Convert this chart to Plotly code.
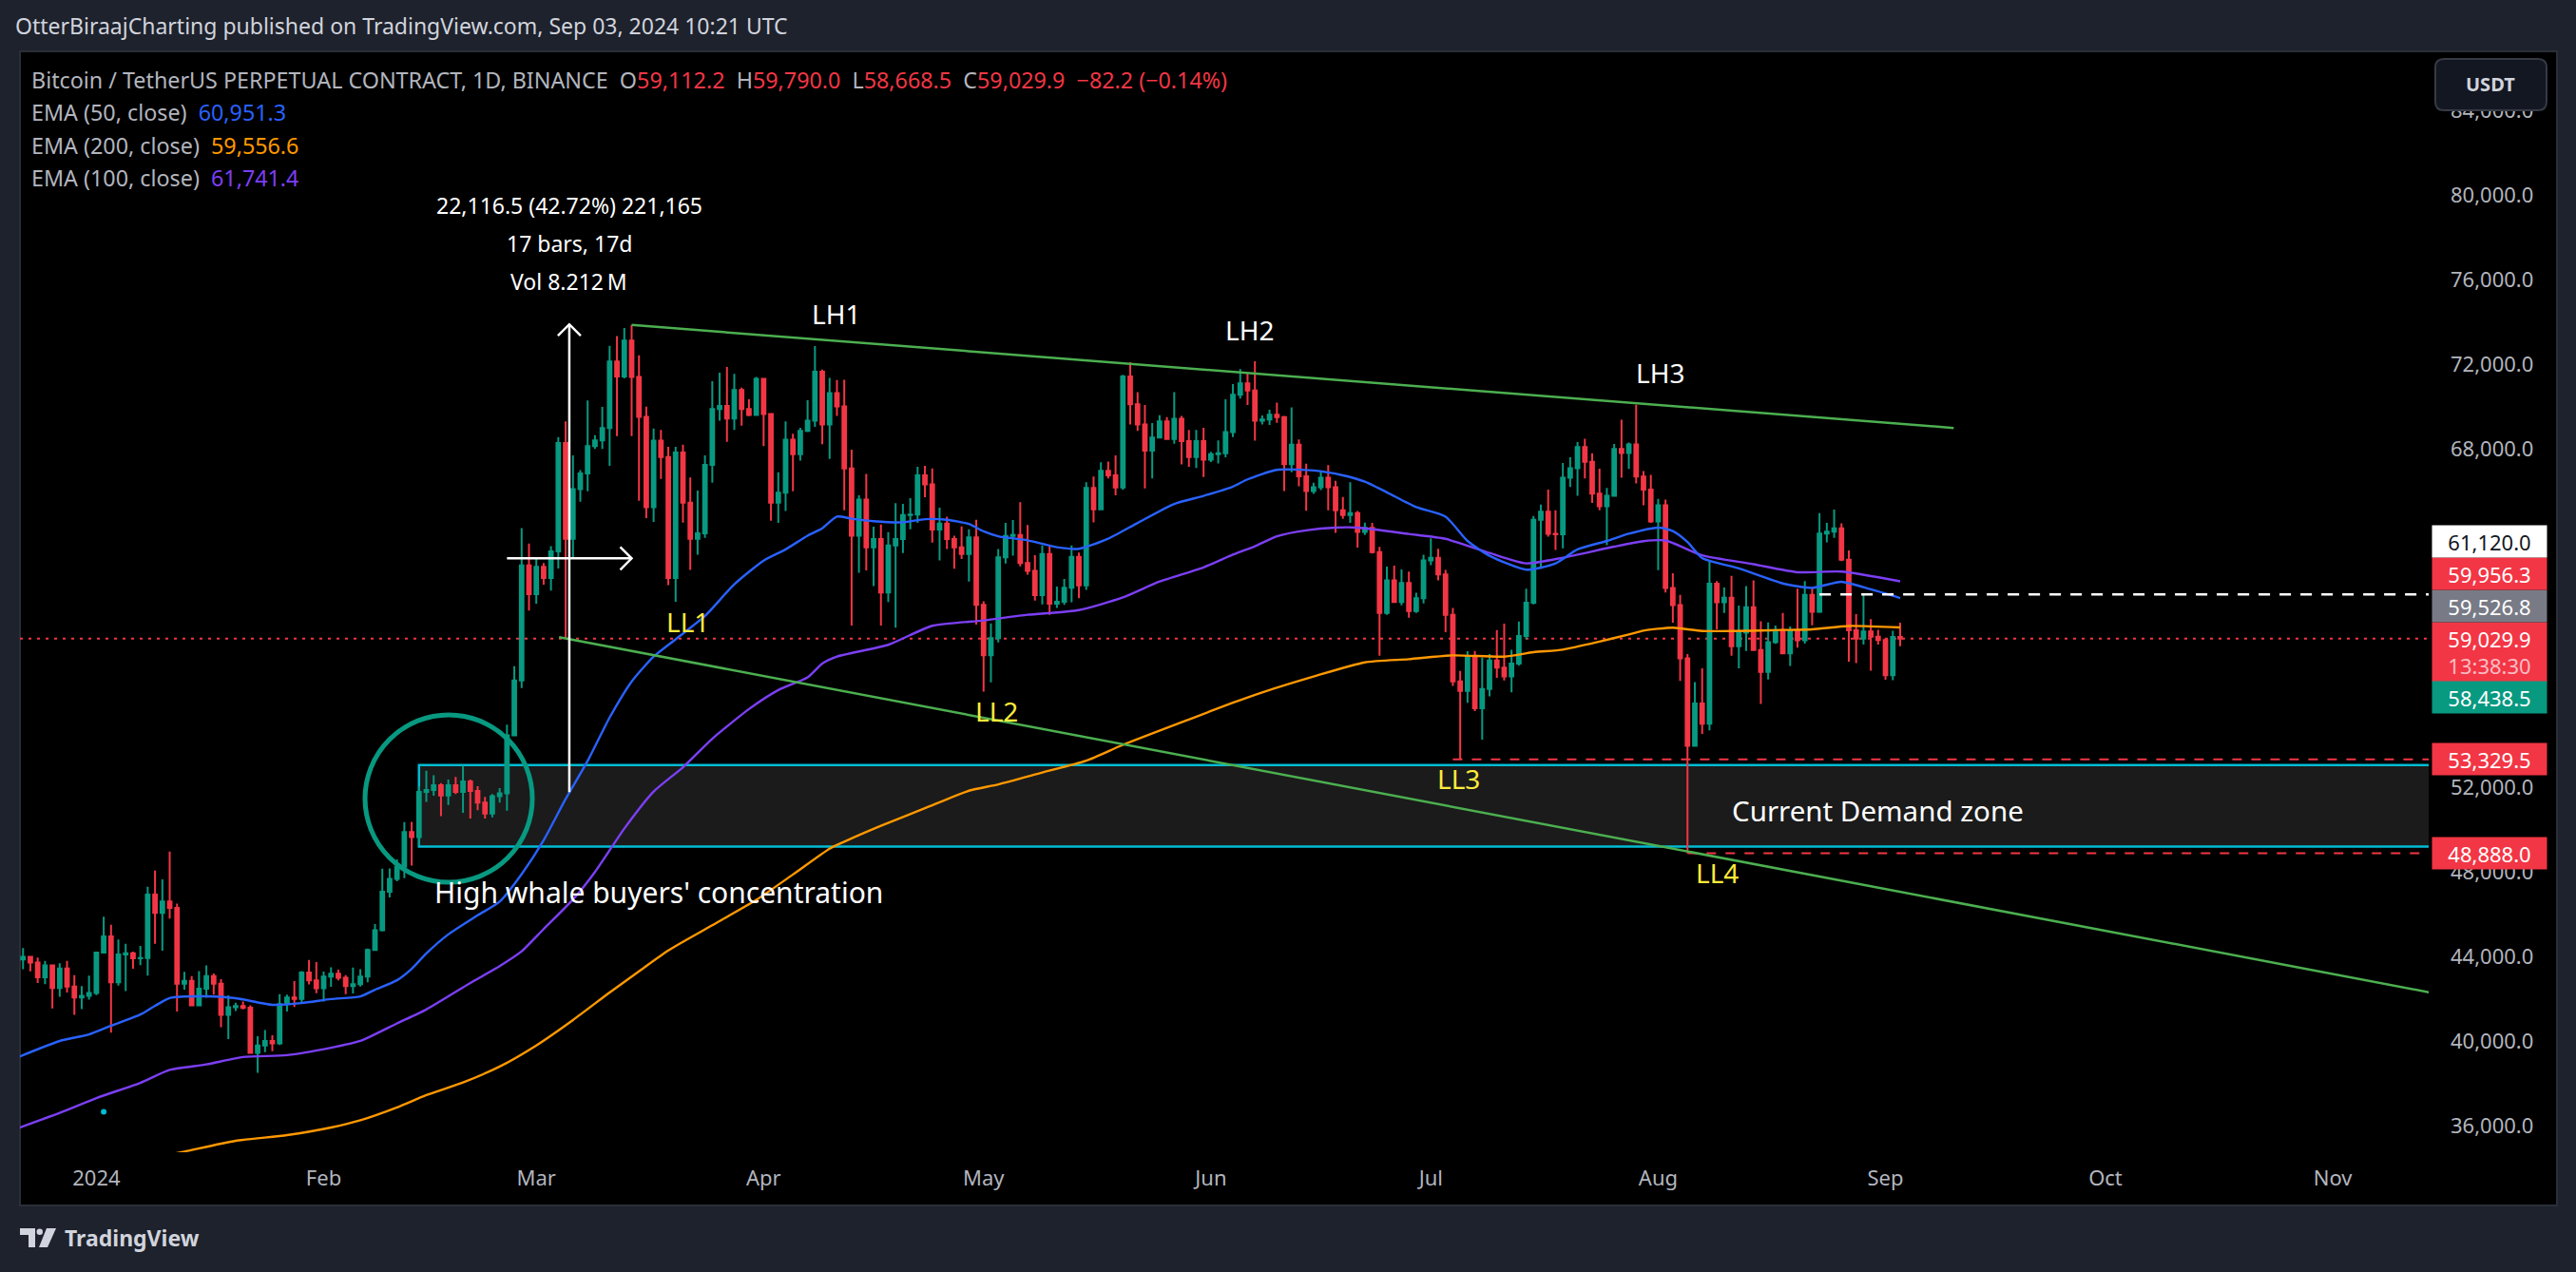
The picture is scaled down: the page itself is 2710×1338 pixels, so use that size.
import plotly.graph_objects as go
import pandas as pd

# ---------------- DATA ----------------
start_date = "2023-12-22"

dec_o = [43860, 43990, 43720, 43020, 43580, 42520, 43440, 42580, 42070, 42140]
dec_h = [44400, 44020, 43950, 43800, 43600, 43680, 43800, 43120, 42600, 43100]
dec_l = [43400, 43300, 42750, 42700, 41550, 42100, 42300, 41240, 41520, 41960]
dec_c = [43990, 43720, 43020, 43580, 42520, 43440, 42580, 42070, 42140, 42280]

jan_o = [42280, 44190, 44950, 42780, 44100, 44150, 43920, 43930, 46930, 46070, 46610, 46300, 42720, 42850, 41700, 42480, 43080, 42720, 41250, 41600, 41660, 41580, 39450, 39800, 40010, 39900, 41750, 42070, 42000, 43250, 42880]
jan_h = [44200, 45890, 45500, 44810, 44600, 44230, 44500, 47300, 48070, 47650, 48970, 46500, 43280, 43080, 43310, 43580, 43200, 42930, 42170, 41820, 41880, 41690, 40230, 40530, 40280, 42220, 42200, 42840, 43310, 43840, 43740]
jan_l = [42180, 44150, 40400, 42630, 42370, 43430, 43590, 43100, 44600, 44280, 45800, 41400, 42440, 41660, 41660, 42050, 42200, 40660, 40100, 41430, 41500, 39400, 38500, 39480, 39530, 39820, 41400, 41620, 41800, 42680, 42270]
jan_c = [44190, 44950, 42780, 44100, 44150, 43920, 43930, 46930, 46070, 46610, 46300, 42720, 42850, 41700, 42480, 43080, 42720, 41250, 41600, 41660, 41580, 39450, 39800, 40010, 39900, 41750, 42070, 42000, 43250, 42880, 42500]

feb_o = [42500, 43050, 43190, 43000, 42600, 42700, 43050, 44310, 45240, 47070, 47670, 48240, 49890, 49650, 51790, 51870, 52100, 51620, 52100, 51790, 52280, 51830, 51280, 50760, 51580, 51720, 54460, 57050, 62490]
feb_h = [43290, 43490, 43380, 43120, 43480, 43400, 44380, 45540, 48150, 48170, 48590, 50360, 50370, 52040, 52780, 52570, 52200, 52370, 52490, 53030, 52370, 52050, 51550, 51680, 51960, 54970, 57730, 64260, 63530]
feb_l = [41880, 42570, 42880, 42220, 42260, 42580, 42790, 44270, 45190, 46800, 47560, 47710, 48300, 49250, 51310, 51600, 50640, 51170, 51680, 50800, 50530, 50920, 50530, 50580, 51280, 50900, 54450, 56700, 60360]
feb_c = [43050, 43190, 43000, 42600, 42700, 43050, 44310, 45240, 47070, 47670, 48240, 49890, 49650, 51790, 51870, 52100, 51620, 52100, 51790, 52280, 51830, 51280, 50760, 51580, 51720, 54460, 57050, 62490, 61130]

mar_o = [61130, 62420, 61900, 63160, 68280, 63750, 66100, 66840, 68130, 68400, 68990, 72130, 71430, 73120, 71400, 69510, 65240, 68390, 67620, 61900, 67830, 65460, 63750, 64010, 67240, 69890, 70030, 69440, 70790, 69890, 69600]
mar_h = [62880, 62600, 63400, 68560, 69300, 67700, 67000, 70290, 68650, 69990, 72870, 73330, 73720, 73860, 72430, 70000, 68960, 68900, 68100, 68100, 68200, 66650, 66030, 67700, 71200, 71600, 71880, 71550, 70900, 70350, 71400]
mar_l = [60680, 61580, 61300, 62350, 59060, 62840, 65500, 66000, 68000, 68000, 67200, 68610, 71340, 68610, 65550, 64730, 64550, 66580, 61560, 60770, 64520, 62280, 63000, 63800, 66400, 69330, 68340, 68900, 69100, 69550, 69570]
mar_c = [62420, 61900, 63160, 68280, 63750, 66100, 66840, 68130, 68400, 68990, 72130, 71430, 73120, 71400, 69510, 65240, 68390, 67620, 61900, 67830, 65460, 63750, 64010, 67240, 69890, 70030, 69440, 70790, 69890, 69600, 71310]

apr_o = [71310, 69650, 65460, 65930, 68440, 67750, 68850, 69330, 71650, 69150, 70640, 70010, 67080, 63900, 65600, 63350, 63740, 61210, 63440, 63740, 64870, 64900, 66750, 66320, 64190, 64470, 63740, 63350, 63030, 63820]
apr_h = [71360, 69700, 66900, 69300, 68720, 69000, 70300, 72860, 71750, 71360, 71260, 71270, 67960, 65810, 66820, 64320, 64420, 64060, 65440, 65400, 65670, 67160, 67200, 67080, 65220, 64800, 63900, 64330, 64200, 64650]
apr_l = [68130, 64600, 64500, 65060, 66000, 67450, 68800, 69040, 68220, 67530, 69560, 65100, 59650, 62140, 62260, 61510, 59650, 60760, 59550, 63080, 64200, 64500, 65720, 63570, 62730, 63270, 62330, 62800, 61730, 59700]
apr_c = [69650, 65460, 65930, 68440, 67750, 68850, 69330, 71650, 69150, 70640, 70010, 67080, 63900, 65600, 63350, 63740, 61210, 63440, 63740, 64870, 64900, 66750, 66320, 64190, 64470, 63740, 63350, 63030, 63820, 60630]

may_o = [60630, 58240, 59050, 62870, 63890, 63930, 62600, 62230, 61090, 63030, 60680, 60770, 61440, 62900, 61550, 66160, 65140, 66970, 66750, 66180, 71420, 70110, 69150, 67920, 68540, 69300, 68470, 69420, 68370, 67620, 68370]
may_h = [60800, 59750, 63270, 64500, 64640, 65480, 64400, 62980, 63440, 63450, 61490, 61850, 63440, 63100, 66430, 66700, 67370, 67400, 67700, 71500, 72100, 70680, 70080, 69220, 69590, 69500, 70680, 69560, 68900, 68900, 69000]
may_l = [56530, 56960, 58850, 62580, 62950, 62450, 62050, 60830, 60650, 60150, 60480, 60630, 60750, 60940, 61330, 64530, 65110, 66600, 65810, 66060, 69150, 68850, 66130, 66600, 68500, 68450, 68250, 67270, 67160, 67100, 66670]
may_c = [58240, 59050, 62870, 63890, 63930, 62600, 62230, 61090, 63030, 60680, 60770, 61440, 62900, 61550, 66160, 65140, 66970, 66750, 66180, 71420, 70110, 69150, 67920, 68540, 69300, 68470, 69420, 68370, 67620, 68370, 67490]

jun_o = [67490, 67750, 67800, 68800, 70560, 71100, 70760, 69330, 69390, 69620, 69500, 67280, 68200, 66710, 66010, 66190, 66640, 66190, 65100, 64870, 64960, 64080, 64270, 63120, 60240, 61780, 60760, 61660, 60330, 60940]
jun_h = [67860, 68400, 70350, 71060, 71770, 71620, 72140, 69580, 69850, 70190, 69560, 69970, 68450, 67300, 66400, 66960, 67230, 66490, 65730, 66430, 65070, 64520, 64500, 63370, 62440, 62480, 62300, 62200, 61200, 63000]
jun_l = [67380, 67310, 67610, 68560, 70380, 70080, 68390, 69160, 69130, 69230, 66010, 66900, 66230, 65080, 65880, 66050, 65100, 64030, 64700, 64500, 63340, 63930, 63050, 58220, 60150, 60750, 60600, 60020, 60250, 60700]
jun_c = [67750, 67800, 68800, 70560, 71100, 70760, 69330, 69390, 69620, 69500, 67280, 68200, 66710, 66010, 66190, 66640, 66190, 65100, 64870, 64960, 64080, 64270, 63120, 60240, 61780, 60760, 61660, 60330, 60940, 62730]

jul_o = [62730, 62850, 62070, 60150, 57010, 56560, 58200, 55740, 56650, 58000, 57660, 57250, 57850, 59150, 60730, 64650, 65030, 63990, 63970, 66640, 67090, 68090, 67390, 65890, 65290, 65780, 68000, 67810, 68210, 66690, 66080]
jul_h = [63770, 63280, 62280, 60480, 57500, 58440, 58450, 58130, 58300, 59440, 59740, 58500, 59840, 61390, 64830, 65370, 66080, 65100, 67340, 67600, 68320, 68480, 67800, 67060, 66150, 68230, 69380, 68300, 70090, 66950, 66770]
jul_l = [62500, 61780, 59330, 56800, 53330, 56000, 55600, 54260, 56300, 57180, 57050, 56490, 57750, 59000, 60650, 62330, 63850, 63220, 63300, 66200, 65780, 66600, 65450, 65100, 63450, 65740, 66640, 67050, 66370, 65330, 64500]
jul_c = [62850, 62070, 60150, 57010, 56560, 58200, 55740, 56650, 58000, 57660, 57250, 57850, 59150, 60730, 64650, 65030, 63990, 63970, 66640, 67090, 68090, 67390, 65890, 65290, 65780, 68000, 67810, 68210, 66690, 66080, 64570]

aug_o = [64570, 65330, 61430, 60620, 58100, 53970, 55970, 55010, 61630, 60750, 60970, 58670, 59310, 60510, 58490, 57460, 58860, 59440, 58340, 59390, 58950, 61100, 60300, 64000, 64090, 64250, 62760, 59420, 59030, 59370, 59120]
aug_h = [65640, 65600, 62120, 61100, 58300, 56980, 57630, 62710, 61750, 61450, 62000, 60590, 61520, 61790, 59850, 59800, 59650, 60250, 59600, 61390, 61750, 61400, 64960, 64500, 65130, 64480, 63200, 60190, 61100, 59950, 59450]
aug_l = [62270, 61210, 59790, 57030, 48888, 53950, 54530, 54700, 59470, 60250, 58220, 57630, 58450, 58450, 55940, 57100, 58780, 58330, 57740, 58600, 58800, 59660, 60250, 63580, 63800, 62700, 57940, 57870, 58750, 57510, 58750]
aug_c = [65330, 61430, 60620, 58100, 53970, 55970, 55010, 61630, 60750, 60970, 58670, 59310, 60510, 58490, 57460, 58860, 59440, 58340, 59390, 58950, 61100, 60300, 64000, 64090, 64250, 62760, 59420, 59030, 59370, 59120, 58970]

sep_o = [58970, 57300, 59112.2]
sep_h = [59050, 59400, 59790.0]
sep_l = [57090, 57060, 58668.5]
sep_c = [57300, 59112.2, 59029.9]

# EMA values (day offset from 2024-01-01, value)
ema50_day = [-11, -5, -1, 2, 6, 8, 10, 15, 19, 24, 28, 32, 36, 38, 41, 43, 45, 48, 52, 55, 58, 61, 64, 67, 70, 73, 76, 79, 83, 87, 91, 94, 97, 99, 101, 103, 106, 110, 113, 116, 119, 121, 123, 127, 131, 134, 138, 142, 147, 151, 155, 157, 161, 166, 170, 173, 176, 180, 184, 187, 190, 195, 199, 202, 206, 209, 213, 215, 217, 219, 224, 230, 234, 238, 242, 246]
ema50_val = [39200, 40010, 40320, 40730, 41260, 41670, 42040, 42120, 42030, 41720, 41800, 41990, 42120, 42430, 42880, 43420, 44150, 45050, 45950, 46600, 47900, 49500, 51450, 53250, 55300, 57000, 58180, 59000, 60100, 61600, 62720, 63250, 63900, 64250, 64800, 64700, 64580, 64530, 64680, 64650, 64450, 64100, 63870, 63680, 63350, 63280, 63760, 64500, 65400, 65780, 66220, 66560, 67010, 66980, 66750, 66450, 65950, 65250, 64800, 63650, 62950, 62290, 62590, 63250, 63650, 63990, 64280, 64120, 63600, 62840, 62350, 61640, 61430, 61720, 61360, 60951.3]
ema100_day = [-11, -5, 0, 6, 10, 15, 20, 26, 32, 36, 41, 45, 51, 55, 58, 61, 65, 68, 72, 76, 80, 84, 89, 93, 97, 99, 101, 108, 114, 121, 127, 134, 140, 145, 151, 155, 158, 161, 165, 169, 172, 179, 184, 190, 195, 200, 207, 211, 214, 219, 226, 232, 238, 246]
ema100_val = [35850, 36610, 37310, 38030, 38640, 38900, 39250, 39340, 39690, 40010, 40840, 41500, 42750, 43550, 44250, 45300, 46700, 48000, 50050, 51800, 52950, 54300, 55700, 56600, 57200, 57850, 58180, 58740, 59640, 59890, 60160, 60380, 60980, 61730, 62400, 63000, 63400, 63870, 64150, 64280, 64280, 63980, 63750, 63080, 62590, 62860, 63380, 63640, 63670, 62970, 62550, 62170, 62200, 61741.4]
ema200_day = [8, 12, 19, 26, 32, 36, 41, 45, 50, 55, 60, 65, 70, 74, 78, 84, 90, 95, 100, 102, 107, 113, 119, 123, 129, 135, 140, 149, 155, 159, 166, 173, 179, 185, 192, 196, 200, 205, 209, 211, 215, 219, 230, 234, 239, 246]
ema200_val = [34500, 34780, 35290, 35560, 35920, 36260, 36870, 37450, 38050, 38800, 39800, 41000, 42300, 43300, 44290, 45480, 46680, 47880, 49100, 49430, 50180, 51010, 51840, 52140, 52700, 53260, 54010, 55210, 56000, 56490, 57240, 57910, 58060, 58240, 58180, 58390, 58510, 58890, 59230, 59410, 59550, 59390, 59440, 59470, 59630, 59556.6]

month_days = [0, 31, 60, 91, 121, 152, 182, 213, 244, 274, 305]
month_labels = ["2024", "Feb", "Mar", "Apr", "May", "Jun", "Jul", "Aug", "Sep", "Oct", "Nov"]
price_ticks = [36000, 40000, 44000, 48000, 52000, 64000, 68000, 72000, 76000, 80000, 84000]

# drawings (day offset, price)
upper_trend = [(73, 73860), (253.3, 68990)]
lower_trend = [(63.1, 59100), (318.1, 42315)]
demand_zone = dict(day0=44, day1=340, low=49200, high=53050)
whale_circle = dict(day=48.05, price=51470, radius_px=88)
measure = dict(day0=56, day1=73, low=51770.5, high=73887.0)
current_price = 59029.9
white_line = dict(day0=235, price=61120.0)
red_dashed = [(185, 53329.5), (217, 48888.0)]
swing_labels = [("LH1", 100.9, 74390, "#ffffff"), ("LH2", 157.3, 73627, "#ffffff"), ("LH3", 213.3, 71605, "#ffffff"),
                ("LL1", 80.7, 59830, "#ffeb3b"), ("LL2", 122.8, 55600, "#ffeb3b"), ("LL3", 185.8, 52410, "#ffeb3b"),
                ("LL4", 221.1, 47960, "#ffeb3b")]
axis_above = [(61120.0, "#ffffff", "#131722"), (59956.3, "#f23645", "#ffffff"), (59526.8, "#787b86", "#ffffff")]
axis_below = [(58438.5, "#089981", "#ffffff"), (53329.5, "#f23645", "#ffffff"), (48888.0, "#f23645", "#ffffff")]

opens = dec_o + jan_o + feb_o + mar_o + apr_o + may_o + jun_o + jul_o + aug_o + sep_o
highs = dec_h + jan_h + feb_h + mar_h + apr_h + may_h + jun_h + jul_h + aug_h + sep_h
lows = dec_l + jan_l + feb_l + mar_l + apr_l + may_l + jun_l + jul_l + aug_l + sep_l
closes = dec_c + jan_c + feb_c + mar_c + apr_c + may_c + jun_c + jul_c + aug_c + sep_c
assert len(opens) == len(highs) == len(lows) == len(closes), (len(opens), len(highs), len(lows), len(closes))
dates = pd.date_range(start_date, periods=len(closes), freq="D")
days = [(d - pd.Timestamp("2024-01-01")).days for d in dates]

# ---------------- LAYOUT ----------------
W, H = 2710, 1338
M_L, M_R, M_T, M_B = 21, 155, 57, 126
PW, PH = W - M_L - M_R, H - M_T - M_B
X_RANGE = [-10.42, 318.08]
Y_RANGE = [34751.0, 86661.0]
DAY_PX = PW / (X_RANGE[1] - X_RANGE[0])
USD_PX = PH / (Y_RANGE[1] - Y_RANGE[0])


def px_y(p):
    return M_T + (Y_RANGE[1] - p) * USD_PX


def paper_x(px):
    return (px - M_L) / PW


def paper_y(py):
    return (M_T + PH - py) / PH


FONT = "Noto Sans, sans-serif"
UP, DOWN = "#089981", "#f23645"
TXT = "#b2b5be"

fig = go.Figure()

fig.add_trace(go.Candlestick(
    x=days, open=opens, high=highs, low=lows, close=closes,
    increasing=dict(line=dict(color=UP, width=2), fillcolor=UP),
    decreasing=dict(line=dict(color=DOWN, width=2), fillcolor=DOWN),
    whiskerwidth=0, hoverinfo="skip", showlegend=False))

for dd, vv, col in [(ema200_day, ema200_val, "#ff9800"), (ema100_day, ema100_val, "#7c3ff5"),
                    (ema50_day, ema50_val, "#2962ff")]:
    fig.add_trace(go.Scatter(x=dd, y=vv, mode="lines", line=dict(color=col, width=2.4, shape="spline", smoothing=0.6),
                             hoverinfo="skip", showlegend=False))

# small cyan marker
fig.add_trace(go.Scatter(x=[1], y=[36660], mode="markers", marker=dict(color="#00bcd4", size=6),
                         hoverinfo="skip", showlegend=False))

shapes = []
# black chart pane (extends under the axes)
shapes.append(dict(type="rect", xref="paper", yref="paper", x0=paper_x(21), x1=paper_x(2690),
                   y0=paper_y(1268), y1=paper_y(54), fillcolor="#000000",
                   line=dict(color="#2a2e39", width=2), layer="below"))
# demand zone
shapes.append(dict(type="rect", xref="x", yref="y", x0=demand_zone["day0"], x1=demand_zone["day1"],
                   y0=demand_zone["low"], y1=demand_zone["high"], fillcolor="#1b1b1b",
                   line=dict(color="#00bcd4", width=2.5), layer="below"))
# horizontal price lines
shapes.append(dict(type="line", xref="x", yref="y", x0=X_RANGE[0], x1=X_RANGE[1], y0=current_price, y1=current_price,
                   line=dict(color="#f23645", width=2, dash="3px,6px"), layer="below"))
shapes.append(dict(type="line", xref="x", yref="y", x0=white_line["day0"], x1=X_RANGE[1] + 5, y0=white_line["price"],
                   y1=white_line["price"], line=dict(color="#ffffff", width=2.5, dash="12px,10px"), layer="above"))
for d0, p in red_dashed:
    shapes.append(dict(type="line", xref="x", yref="y", x0=d0, x1=X_RANGE[1] + 5, y0=p, y1=p,
                       line=dict(color="#f23645", width=2, dash="10px,10px"), layer="above"))
# trend lines
for (a, b) in [upper_trend, lower_trend]:
    shapes.append(dict(type="line", xref="x", yref="y", x0=a[0], y0=a[1], x1=b[0], y1=b[1],
                       line=dict(color="#4caf50", width=2.5), layer="above"))
# whale circle
shapes.append(dict(type="circle", xref="x", yref="y", xsizemode="pixel", ysizemode="pixel",
                   xanchor=whale_circle["day"], yanchor=whale_circle["price"],
                   x0=-whale_circle["radius_px"], x1=whale_circle["radius_px"],
                   y0=-whale_circle["radius_px"], y1=whale_circle["radius_px"],
                   line=dict(color="#089981", width=5), layer="above"))
# measure tool
mx = (measure["day0"] + measure["day1"]) / 2
my = (measure["low"] + measure["high"]) / 2
ah_d, ah_p = 12 / DAY_PX, 12 / USD_PX
shapes.append(dict(type="line", xref="x", yref="y", x0=mx, x1=mx, y0=measure["low"], y1=measure["high"],
                   line=dict(color="#ffffff", width=2.5), layer="above"))
shapes.append(dict(type="line", xref="x", yref="y", x0=measure["day0"], x1=measure["day1"], y0=my, y1=my,
                   line=dict(color="#ffffff", width=2.5), layer="above"))
shapes.append(dict(type="path", xref="x", yref="y", layer="above", line=dict(color="#ffffff", width=2.5),
                   path=f"M {mx - ah_d},{measure['high'] - ah_p} L {mx},{measure['high']} L {mx + ah_d},{measure['high'] - ah_p}"))
shapes.append(dict(type="path", xref="x", yref="y", layer="above", line=dict(color="#ffffff", width=2.5),
                   path=f"M {measure['day1'] - ah_d},{my + ah_p} L {measure['day1']},{my} L {measure['day1'] - ah_d},{my - ah_p}"))


# USDT button (rounded rect)
def rrect(x0, y0, x1, y1, r):
    X = paper_x
    Y = paper_y
    return (f"M {X(x0 + r)},{Y(y0)} L {X(x1 - r)},{Y(y0)} Q {X(x1)},{Y(y0)} {X(x1)},{Y(y0 + r)} "
            f"L {X(x1)},{Y(y1 - r)} Q {X(x1)},{Y(y1)} {X(x1 - r)},{Y(y1)} L {X(x0 + r)},{Y(y1)} "
            f"Q {X(x0)},{Y(y1)} {X(x0)},{Y(y1 - r)} L {X(x0)},{Y(y0 + r)} Q {X(x0)},{Y(y0)} {X(x0 + r)},{Y(y0)} Z")


shapes.append(dict(type="path", xref="paper", yref="paper", path=rrect(2562, 62, 2679, 116, 9),
                   fillcolor="#131722", line=dict(color="#363a45", width=2), layer="above"))
# TradingView logo
X, Y = paper_x, paper_y
shapes.append(dict(type="path", xref="paper", yref="paper", fillcolor="#d1d4dc", line=dict(width=0),
                   path=f"M {X(21)},{Y(1292)} L {X(37)},{Y(1292)} L {X(37)},{Y(1312)} L {X(30)},{Y(1312)} "
                        f"L {X(30)},{Y(1299)} L {X(21)},{Y(1299)} Z"))
shapes.append(dict(type="circle", xref="paper", yref="paper", fillcolor="#d1d4dc", line=dict(width=0),
                   x0=X(38.5), x1=X(45), y0=Y(1299), y1=Y(1292.5)))
shapes.append(dict(type="path", xref="paper", yref="paper", fillcolor="#d1d4dc", line=dict(width=0),
                   path=f"M {X(49)},{Y(1292)} L {X(59)},{Y(1292)} L {X(50)},{Y(1312)} L {X(41)},{Y(1312)} Z"))

ann = []


def text(x, y, s, size, color, xref="paper", yref="paper", xanchor="left", yanchor="middle", **kw):
    ann.append(dict(x=x, y=y, xref=xref, yref=yref, text=s, showarrow=False, xanchor=xanchor, yanchor=yanchor,
                    font=dict(family=FONT, size=size, color=color), **kw))


# header
text(paper_x(14), paper_y(27), "OtterBiraajCharting published on TradingView.com, Sep 03, 2024 10:21 UTC", 23, "#d1d4dc")
R = "#f23645"
sp = "\u00a0\u00a0"
legend1 = ("Bitcoin / TetherUS PERPETUAL CONTRACT, 1D, BINANCE" + sp +
           f"O<span style='color:{R}'>59,112.2</span>" + sp +
           f"H<span style='color:{R}'>59,790.0</span>" + sp +
           f"L<span style='color:{R}'>58,668.5</span>" + sp +
           f"C<span style='color:{R}'>59,029.9</span>" + sp +
           f"<span style='color:{R}'>\u221282.2 (\u22120.14%)</span>")
LEG = 23.3
text(paper_x(31), paper_y(84), legend1, LEG, TXT)
text(paper_x(31), paper_y(118.5), "EMA (50, close)" + sp + "<span style='color:#2962ff'>60,951.3</span>", LEG, TXT)
text(paper_x(31), paper_y(153), "EMA (200, close)" + sp + "<span style='color:#ff9800'>59,556.6</span>", LEG, TXT)
text(paper_x(31), paper_y(187.5), "EMA (100, close)" + sp + "<span style='color:#7c3ff5'>61,741.4</span>", LEG, TXT)

# measure labels
for s, shift in [("22,116.5 (42.72%) 221,165", 125.6), ("17 bars, 17d", 85.6), ("Vol 8.212\u2009M", 45.6)]:
    text(mx, measure["high"], s, 23, "#ffffff", xref="x", yref="y", xanchor="center", yshift=shift)

# swing labels
for s, d, p, col in swing_labels:
    text(d, p, s, 28, col, xref="x", yref="y", xanchor="center")
text(45.8, 47060, "High whale buyers' concentration", 30, "#ffffff", xref="x", yref="y")
text(222.8, 50890, "Current Demand zone", 29.5, "#ffffff", xref="x", yref="y")

# price-axis labels (stacked around the live price label)
BOX_X, BOX_W, BOX_H = 2619, 120, 34
cur_top = px_y(current_price) - 17
ann.append(dict(x=paper_x(BOX_X), y=paper_y(cur_top + 31), xref="paper", yref="paper", showarrow=False,
                text="59,029.9<br><span style='color:#fbbcc3'>13:38:30</span>", bgcolor="#f23645",
                width=BOX_W, height=62, borderpad=0, xanchor="center", yanchor="middle",
                font=dict(family=FONT, size=22, color="#ffffff")))
edge = cur_top
for p, bg, fg in sorted(axis_above, key=lambda t: t[0]):
    c = min(px_y(p), edge - BOX_H / 2)
    edge = c - BOX_H / 2
    ann.append(dict(x=paper_x(BOX_X), y=paper_y(c), xref="paper", yref="paper", showarrow=False,
                    text=f"{p:,.1f}", bgcolor=bg, width=BOX_W, height=BOX_H - 1, borderpad=0,
                    xanchor="center", yanchor="middle", font=dict(family=FONT, size=22, color=fg)))
edge = cur_top + 62
for p, bg, fg in sorted(axis_below, key=lambda t: -t[0]):
    c = max(px_y(p), edge + BOX_H / 2)
    edge = c + BOX_H / 2
    ann.append(dict(x=paper_x(BOX_X), y=paper_y(c), xref="paper", yref="paper", showarrow=False,
                    text=f"{p:,.1f}", bgcolor=bg, width=BOX_W, height=BOX_H - 1, borderpad=0,
                    xanchor="center", yanchor="middle", font=dict(family=FONT, size=22, color=fg)))

text(paper_x(2620), paper_y(89), "<b>USDT</b>", 20, "#d1d4dc", xanchor="center")
text(paper_x(66), paper_y(1302), "<b>TradingView</b>", 23, "#d1d4dc")

fig.update_layout(
    width=W, height=H, margin=dict(l=M_L, r=M_R, t=M_T, b=M_B, pad=0),
    paper_bgcolor="#1e222d", plot_bgcolor="#000000",
    shapes=shapes, annotations=ann, showlegend=False, hovermode=False,
    xaxis=dict(range=X_RANGE, showgrid=False, zeroline=False, showline=False, ticks="",
               tickvals=month_days, ticktext=month_labels, ticklabelstandoff=12,
               tickfont=dict(family=FONT, size=22, color=TXT), rangeslider=dict(visible=False), fixedrange=True),
    yaxis=dict(range=Y_RANGE, side="right", showgrid=False, zeroline=False, showline=False, ticks="",
               tickvals=price_ticks, ticktext=[f"{v:,.1f}" for v in price_ticks], ticklabelstandoff=22,
               tickfont=dict(family=FONT, size=22, color=TXT), fixedrange=True),
)

fig.write_html("out.html", config={"displayModeBar": False},
               post_script="document.body.style.margin='0';document.body.style.overflow='hidden';"
                           "document.documentElement.style.overflow='hidden';")
